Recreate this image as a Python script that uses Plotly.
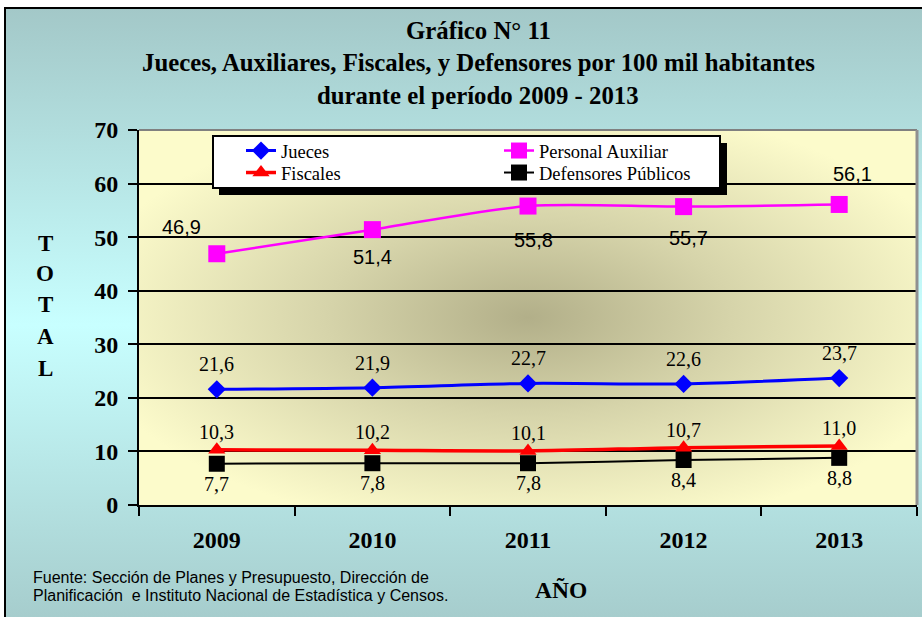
import base64
import plotly.graph_objects as go

# ---------------- data ----------------
years = ["2009", "2010", "2011", "2012", "2013"]
jueces = [21.6, 21.9, 22.7, 22.6, 23.7]
auxiliar = [46.9, 51.4, 55.8, 55.7, 56.1]
fiscales = [10.3, 10.2, 10.1, 10.7, 11.0]
defensores = [7.7, 7.8, 7.8, 8.4, 8.8]
y_ticks = [0, 10, 20, 30, 40, 50, 60, 70]

title_lines = ["Gráfico N° 11",
               "Jueces, Auxiliares, Fiscales, y Defensores por 100 mil habitantes",
               "durante el período 2009 - 2013"]
source_lines = ["Fuente: Sección de Planes y Presupuesto, Dirección de",
                "Planificación  e Instituto Nacional de Estadística y Censos."]

# ---------------- layout geometry ----------------
W, H = 922, 617
L, R, T, B = 139, 5, 130, 112
PW, PH = W - L - R, H - T - B


def px(x):
    return (x - L) / PW


def py(y):
    return 1 - (y - T) / PH


def fmt(v):
    return f"{v:.1f}".replace(".", ",")


serif = "Liberation Serif, Times New Roman, serif"
sans = "Liberation Sans, Arial, sans-serif"


def svg_uri(svg):
    return "data:image/svg+xml;base64," + base64.b64encode(svg.encode()).decode()


page_bg = svg_uri(
    '<svg xmlns="http://www.w3.org/2000/svg" width="100" height="100" viewBox="0 0 100 100" '
    'preserveAspectRatio="none"><defs><linearGradient id="g" x1="0" y1="0" x2="0" y2="1">'
    '<stop offset="0" stop-color="#a3c8c8"/><stop offset="0.52" stop-color="#c8ffff"/>'
    '<stop offset="1" stop-color="#a6cdcd"/></linearGradient></defs>'
    '<rect width="100" height="100" fill="url(#g)"/></svg>')

plot_bg = svg_uri(
    '<svg xmlns="http://www.w3.org/2000/svg" width="100" height="100" viewBox="0 0 100 100" '
    'preserveAspectRatio="none"><defs><radialGradient id="r" cx="0.5" cy="0.5" r="0.58">'
    '<stop offset="0" stop-color="#b2af89"/><stop offset="0.45" stop-color="#d6d4aa"/>'
    '<stop offset="1" stop-color="#fcfbcb"/></radialGradient></defs>'
    '<rect width="100" height="100" fill="url(#r)"/></svg>')

fig = go.Figure()

series = [
    ("Jueces", jueces, "#0000ff", "diamond", 14, 3, "legend"),
    ("Personal Auxiliar", auxiliar, "#ff00ff", "square", 17, 2.5, "legend"),
    ("Fiscales", fiscales, "#ff0000", "triangle-up", 15, 3.5, "legend2"),
    ("Defensores Públicos", defensores, "#000000", "square", 16, 2, "legend2"),
]
for name, vals, col, sym, size, lw, leg in series:
    fig.add_trace(go.Scatter(
        x=years, y=vals, name=name, mode="lines+markers", legend=leg,
        line=dict(color=col, width=lw, shape="spline", smoothing=0.8),
        marker=dict(symbol=sym, size=size, color=col),
    ))

annotations = []
# data labels (x given as category index)
label_shift = {"Jueces": (0, 25), "Fiscales": (0, 18), "Defensores Públicos": (0, -20)}
for name, vals in [("Jueces", jueces), ("Fiscales", fiscales), ("Defensores Públicos", defensores)]:
    dx, dy = label_shift[name]
    for i, v in enumerate(vals):
        annotations.append(dict(x=i, y=v, xref="x", yref="y", text=fmt(v), showarrow=False,
                                xshift=dx, yshift=dy,
                                font=dict(family=serif, size=20, color="black")))
aux_shift = [(-35, 27), (0, -27), (5, -34), (5, -31), (13, 30)]
for i, ((dx, dy), v) in enumerate(zip(aux_shift, auxiliar)):
    annotations.append(dict(x=i, y=v, xref="x", yref="y", text=fmt(v), showarrow=False,
                            xshift=dx, yshift=dy,
                            font=dict(family=sans, size=20, color="black")))

# titles
for txt, yy in zip(title_lines, [30, 63, 95]):
    annotations.append(dict(xref="paper", yref="paper", x=px(478), y=py(yy),
                            text=f"<b>{txt}</b>", showarrow=False,
                            xanchor="center", yanchor="middle",
                            font=dict(family=serif, size=24.8, color="black")))
# vertical axis title
for ch, yy in zip("TOTAL", [243, 273, 304, 336, 368]):
    annotations.append(dict(xref="paper", yref="paper", x=px(45), y=py(yy),
                            text=f"<b>{ch}</b>", showarrow=False,
                            xanchor="center", yanchor="middle",
                            font=dict(family=serif, size=23, color="black")))
annotations.append(dict(xref="paper", yref="paper", x=px(561), y=py(590),
                        text="<b>AÑO</b>", showarrow=False,
                        xanchor="center", yanchor="middle",
                        font=dict(family=serif, size=23.5, color="black")))
for txt, yy in zip(source_lines, [577, 595]):
    annotations.append(dict(xref="paper", yref="paper", x=px(31), y=py(yy),
                            text=txt, showarrow=False, align="left",
                            xanchor="left", yanchor="middle",
                            font=dict(family=sans, size=16, color="black")))

shapes = [
    # outer frame
    dict(type="rect", xref="paper", yref="paper", x0=px(5), x1=px(930), y0=py(8), y1=py(630),
         line=dict(color="black", width=2), fillcolor="rgba(0,0,0,0)", layer="above"),
    # top / right plot border (grey)
    dict(type="line", xref="paper", yref="paper", x0=0, x1=1, y0=1, y1=1,
         line=dict(color="#808080", width=2), layer="above"),
    dict(type="line", xref="paper", yref="paper", x0=1, x1=1, y0=0, y1=1,
         line=dict(color="#909090", width=3), layer="above"),
    # legend shadow and box
    dict(type="rect", xref="paper", yref="paper", x0=px(219), x1=px(727), y0=py(143), y1=py(195),
         line=dict(width=0), fillcolor="black", layer="above"),
    dict(type="rect", xref="paper", yref="paper", x0=px(213), x1=px(720), y0=py(136), y1=py(188),
         line=dict(color="black", width=2), fillcolor="white", layer="above"),
]

images = [
    dict(source=page_bg, xref="paper", yref="paper", x=px(6), y=py(9),
         sizex=(W - 6) / PW, sizey=(H - 9) / PH, sizing="stretch",
         xanchor="left", yanchor="top", layer="below"),
    dict(source=plot_bg, xref="paper", yref="paper", x=0, y=1, sizex=1, sizey=1,
         sizing="stretch", xanchor="left", yanchor="top", layer="below"),
]

leg_common = dict(orientation="h", xanchor="left", yanchor="middle",
                  bgcolor="rgba(0,0,0,0)", borderwidth=0,
                  entrywidth=213, entrywidthmode="pixels",
                  font=dict(family=serif, size=18.5, color="black"))

fig.update_layout(
    width=W, height=H,
    margin=dict(l=L, r=R, t=T, b=B, pad=0),
    paper_bgcolor="white", plot_bgcolor="rgba(0,0,0,0)",
    showlegend=True,
    legend=dict(x=px(241), y=py(151), **leg_common),
    legend2=dict(x=px(241), y=py(173), **leg_common),
    annotations=annotations, shapes=shapes, images=images,
    xaxis=dict(type="category", tickson="boundaries", ticks="outside", ticklen=9,
               tickwidth=2, tickcolor="black", showline=True, linecolor="black", linewidth=2,
               showgrid=False, ticklabelstandoff=12,
               tickfont=dict(family=serif, size=24, color="black", weight="bold"),
               range=[-0.5, 4.5]),
    yaxis=dict(range=[0, 70], tickvals=y_ticks, ticktext=[str(v) for v in y_ticks],
               ticks="outside", ticklen=9, tickwidth=2,
               tickcolor="black", showline=True, linecolor="black", linewidth=2,
               showgrid=True, gridcolor="black", gridwidth=2, zeroline=False,
               ticklabelstandoff=5,
               tickfont=dict(family=serif, size=24, color="black", weight="bold")),
)

fig.write_html("out.html", config={"displayModeBar": False},
               post_script="document.body.style.margin='0';document.body.style.padding='0';")
